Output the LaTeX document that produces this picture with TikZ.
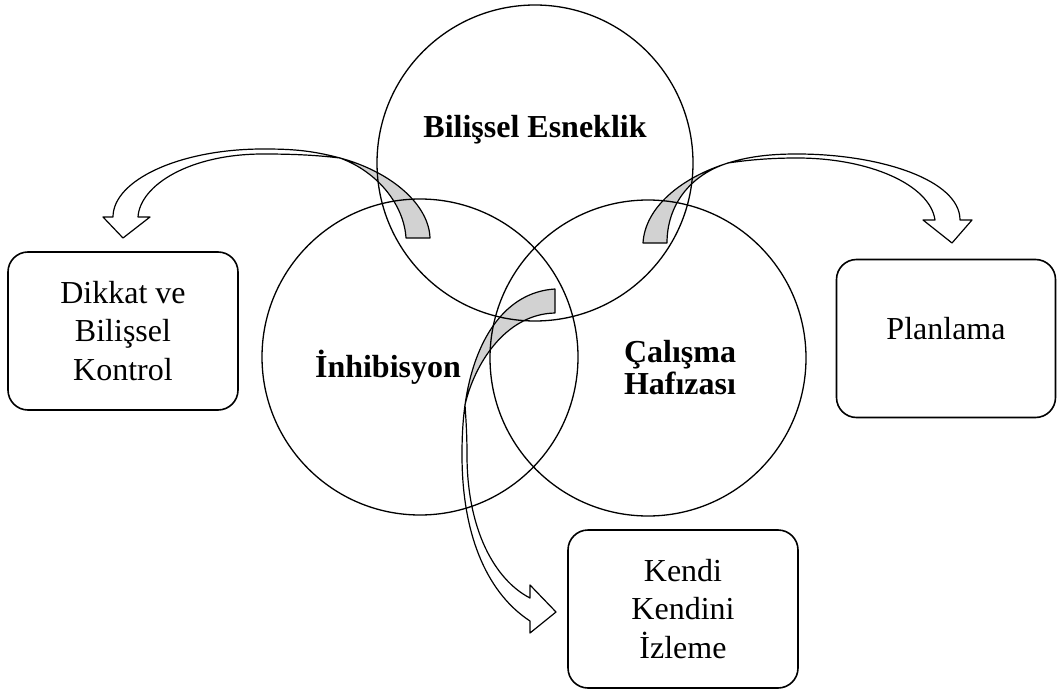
\documentclass[tikz,border=0pt]{standalone}
\usepackage{fontspec}
\setmainfont{Liberation Serif}
\begin{document}
\begin{tikzpicture}[x=1pt,y=-1pt,
  circ/.style={circle, draw, line width=1.3pt, minimum size=316pt, inner sep=0pt},
  box/.style={draw, rounded corners=20pt, line width=1.6pt, align=center, inner sep=0pt,
              font=\fontsize{32}{38.5}\selectfont},
  lbl/.style={font=\bfseries\fontsize{32}{32}\selectfont, inner sep=0pt},
  band/.style={draw, line width=1.2pt, fill=white, line join=round},
  tailpart/.style={draw, line width=1.2pt, fill=gray!35, line join=round}]
\useasboundingbox (0,0) rectangle (1057,695);

% left curved arrow
\draw[tailpart] (430,238) .. controls (429,205) and (392,172) .. (340,158)
  .. controls (378,172) and (404,205) .. (406,238) -- cycle;
\draw[band] (340,158) .. controls (310,150) and (290,149) .. (263,149)
  .. controls (180,149) and (113,180) .. (113,217) -- (103,217) -- (123,238) -- (150,217) -- (138,217)
  .. controls (140,185) and (190,154) .. (263,154)
  .. controls (292,154) and (315,155) .. (340,158) -- cycle;

% right curved arrow
\draw[tailpart] (643,243) .. controls (645,208) and (680,178) .. (728,163)
  .. controls (690,175) and (667,205) .. (667,243) -- cycle;
\draw[band] (728,163) .. controls (752,155.5) and (775,154) .. (797,154)
  .. controls (880,154) and (960,180) .. (960,220) -- (972,220) -- (952,243) -- (923,220) -- (935,220)
  .. controls (930,185) and (870,158) .. (797,158)
  .. controls (770,158) and (748,160) .. (728,163) -- cycle;

% bottom curved arrow
\draw[tailpart] (555,289) .. controls (505,292) and (474,340) .. (465,405)
  .. controls (474,365) and (505,314) .. (555,313) -- cycle;
\draw[band] (465,405) .. controls (462.5,423) and (462,440) .. (462,455)
  .. controls (462,540) and (490,595) .. (530,621) -- (530,633) -- (556,612) -- (530,585) -- (530,598)
  .. controls (495,580) and (467,530) .. (467,455)
  .. controls (467,435) and (466,420) .. (465,405) -- cycle;

% circles
\node[circ] (cBE) at (535,163) {};
\node[circ] (cIn) at (420,357) {};
\node[circ] (cCH) at (648,358) {};

% circle labels
\node[lbl, anchor=base] (tBE) at (535,138) {Bilişsel Esneklik};
\node[lbl, anchor=base] (tIn) at (388,377) {İnhibisyon};
\node[lbl, align=center] (tCH) at (680,368) {Çalışma\\Hafızası};

% boxes
\node[box, minimum width=230pt, minimum height=158pt] (bDK) at (123,331) {Dikkat ve\\Bilişsel\\Kontrol};
\node[box, minimum width=219pt, minimum height=158pt, text depth=21pt] (bPL) at (946,338.5) {Planlama};
\node[box, minimum width=230pt, minimum height=158pt] (bKK) at (683,609) {Kendi\\Kendini\\İzleme};
\end{tikzpicture}
\end{document}
